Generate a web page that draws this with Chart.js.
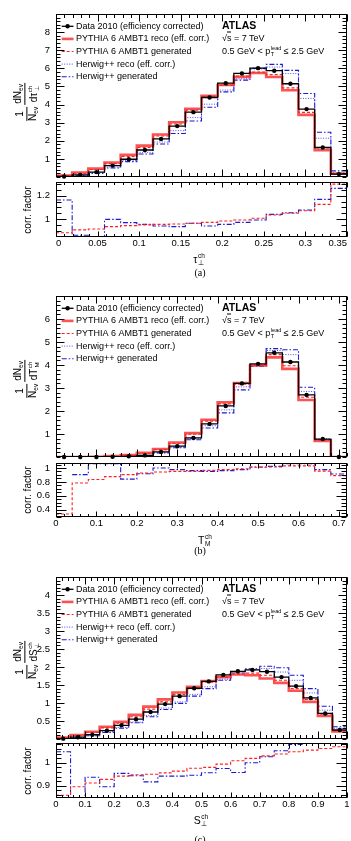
<!DOCTYPE html>
<html>
<head>
<meta charset="utf-8">
<script src="https://cdn.jsdelivr.net/npm/chart.js@4.4.1/dist/chart.umd.min.js"></script>
<style>
  body { margin: 0; background: #fff; }
  #page { position: relative; width: 351px; height: 841px; overflow: hidden; font-family: "Liberation Sans", Arial, Helvetica, sans-serif; color: #000; }
  canvas { position: absolute; left: 0; }
  .l, .c, .yt { position: absolute; white-space: nowrap; line-height: 1; }
  .l { transform: translateY(-50%); }
  .c { transform: translate(-50%, -50%); }
  .yt { transform: translate(-50%, -50%) rotate(-90deg); font-size: 10px; }
  .atlas { font-weight: bold; font-size: 10.5px; }
  .info { font-size: 9px; }
  .xt { font-size: 10.5px; }
  .cap { font-family: "Liberation Serif", "Times New Roman", serif; font-size: 10px; }
  .ss { display: inline-flex; flex-direction: column; font-size: 0.62em; line-height: 1.15em; vertical-align: 0.8em; margin-left: 0.5px; }
  .lo { font-size: 0.65em; position: relative; top: 0.35em; }
  .fr { display: inline-flex; flex-direction: column; text-align: center; vertical-align: middle; margin: 0 1px; }
  .fr > span:first-child { border-bottom: 1px solid #000; padding: 0 1px 1px; }
  .fr > span:last-child { padding-top: 1px; }
  .ov { border-top: 1px solid #000; }
</style>
</head>
<body>
<div id="page">
  <canvas id="mainA"></canvas><canvas id="corrA"></canvas>
  <canvas id="mainB"></canvas><canvas id="corrB"></canvas>
  <canvas id="mainC"></canvas><canvas id="corrC"></canvas>

  <!-- (a) -->
  <div class="l atlas" style="left:222px;top:24.7px">ATLAS</div>
  <div class="l info" style="left:222px;top:37.5px">√<span class="ov">s</span> = 7 TeV</div>
  <div class="l info" style="left:222px;top:50.5px">0.5 GeV &lt; p<span class="ss"><span>lead</span><span>T</span></span> ≤ 2.5 GeV</div>
  <div class="yt" style="left:27px;top:102px"><span class="fr"><span>1</span><span>N<span class="lo">ev</span></span></span><span class="fr"><span>dN<span class="lo">ev</span></span><span>dτ<span class="ss"><span>ch</span><span>⊥</span></span></span></span></div>
  <div class="yt" style="left:28px;top:209.5px">corr. factor</div>
  <div class="c xt" style="left:199px;top:259px">τ<span class="ss"><span>ch</span><span>⊥</span></span></div>
  <div class="c cap" style="left:200px;top:273px">(a)</div>

  <!-- (b) -->
  <div class="l atlas" style="left:222px;top:306.7px">ATLAS</div>
  <div class="l info" style="left:222px;top:319.5px">√<span class="ov">s</span> = 7 TeV</div>
  <div class="l info" style="left:222px;top:332.5px">0.5 GeV &lt; p<span class="ss"><span>lead</span><span>T</span></span> ≤ 2.5 GeV</div>
  <div class="yt" style="left:27px;top:379px"><span class="fr"><span>1</span><span>N<span class="lo">ev</span></span></span><span class="fr"><span>dN<span class="lo">ev</span></span><span>dT<span class="ss"><span>ch</span><span>M</span></span></span></span></div>
  <div class="yt" style="left:28px;top:490px">corr. factor</div>
  <div class="c xt" style="left:205px;top:540px">T<span class="ss"><span>ch</span><span>M</span></span></div>
  <div class="c cap" style="left:200px;top:551px">(b)</div>

  <!-- (c) -->
  <div class="l atlas" style="left:222px;top:587.7px">ATLAS</div>
  <div class="l info" style="left:222px;top:600.5px">√<span class="ov">s</span> = 7 TeV</div>
  <div class="l info" style="left:222px;top:613.5px">0.5 GeV &lt; p<span class="ss"><span>lead</span><span>T</span></span> ≤ 2.5 GeV</div>
  <div class="yt" style="left:27px;top:660px"><span class="fr"><span>1</span><span>N<span class="lo">ev</span></span></span><span class="fr"><span>dN<span class="lo">ev</span></span><span>dS<span class="ss"><span>ch</span><span>⊥</span></span></span></span></div>
  <div class="yt" style="left:28px;top:770.5px">corr. factor</div>
  <div class="c xt" style="left:201px;top:820px">S<span class="ss"><span>ch</span><span>⊥</span></span></div>
  <div class="c cap" style="left:200px;top:840px">(c)</div>
</div>

<script>
// ---------- (a) transverse thrust minor tau_perp, 18 bins over 0..0.35 ----------
const tauRange = [0, 0.35];
const tauBins = 18;
const tauData   = [0.03, 0.12, 0.27, 0.63, 0.98, 1.49, 2.10, 2.81, 3.58, 4.39, 5.18, 5.72, 6.01, 5.87, 5.15, 3.75, 1.63, 0.16];
const tauPyReco = [0.08, 0.25, 0.46, 0.80, 1.22, 1.73, 2.35, 3.02, 3.77, 4.49, 5.08, 5.53, 5.74, 5.52, 4.79, 3.43, 1.48, 0.18];
const tauPyGen  = [0.06, 0.21, 0.41, 0.74, 1.13, 1.63, 2.26, 2.93, 3.69, 4.43, 5.06, 5.58, 5.79, 5.65, 4.92, 3.57, 1.60, 0.21];
const tauHwReco = [0.04, 0.10, 0.24, 0.55, 0.92, 1.36, 1.93, 2.56, 3.28, 4.02, 4.80, 5.42, 5.96, 6.07, 5.71, 4.34, 2.14, 0.22];
const tauHwGen  = [0.03, 0.08, 0.20, 0.50, 0.85, 1.27, 1.82, 2.40, 3.09, 3.85, 4.70, 5.35, 6.00, 6.22, 5.89, 4.61, 2.47, 0.34];
const tauPyCorr = [0.882, 0.906, 0.914, 0.934, 0.943, 0.949, 0.954, 0.957, 0.963, 0.971, 0.983, 0.991, 1.006, 1.034, 1.049, 1.071, 1.126, 1.30];
const tauHwCorr = [1.163, 0.86, 0.84, 0.997, 0.969, 0.954, 0.94, 0.934, 0.963, 0.94, 0.954, 0.971, 0.991, 1.04, 1.054, 1.077, 1.169, 1.263];
const tauXTicks = [0, 0.05, 0.1, 0.15, 0.2, 0.25, 0.3, 0.35];
const tauYTicks = [1, 2, 3, 4, 5, 6, 7, 8];
const tauCorrTicks = [1, 1.2];

// ---------- (b) thrust major T_M, 18 bins over 0..0.72 ----------
const tmRange = [0, 0.72];
const tmBins = 18;
const tmData   = [0.0, 0.0, 0.0, 0.01, 0.03, 0.07, 0.22, 0.47, 0.83, 1.44, 2.22, 3.20, 4.05, 4.53, 4.13, 2.70, 0.78, 0.0];
const tmPyReco = [0.0, 0.0, 0.01, 0.04, 0.08, 0.18, 0.35, 0.63, 1.04, 1.62, 2.38, 3.22, 3.98, 4.33, 3.83, 2.48, 0.70, 0.0];
const tmPyGen  = [0.0, 0.0, 0.01, 0.03, 0.07, 0.16, 0.32, 0.59, 0.99, 1.56, 2.31, 3.17, 4.00, 4.45, 3.97, 2.60, 0.74, 0.0];
const tmHwReco = [0.0, 0.0, 0.0, 0.01, 0.03, 0.07, 0.19, 0.43, 0.80, 1.36, 2.05, 3.05, 4.00, 4.63, 4.45, 2.85, 0.78, 0.0];
const tmHwGen  = [0.0, 0.0, 0.0, 0.01, 0.03, 0.06, 0.18, 0.40, 0.75, 1.26, 1.92, 2.92, 3.95, 4.71, 4.66, 3.03, 0.75, 0.0];
const tmPyCorr = [0.337, 0.784, 0.835, 0.875, 0.904, 0.928, 0.942, 0.952, 0.952, 0.966, 0.976, 0.99, 1.01, 1.014, 1.03, 1.03, 0.955, 0.89];
const tmHwCorr = [null, 0.904, 1.062, 1.062, 0.84, 0.918, 1.0, 0.976, 0.962, 0.952, 0.962, 0.976, 1.014, 1.024, 1.062, 1.062, 0.976, 0.914];
const tmXTicks = [0, 0.1, 0.2, 0.3, 0.4, 0.5, 0.6, 0.7];
const tmYTicks = [1, 2, 3, 4, 5, 6];
const tmCorrTicks = [0.4, 0.6, 0.8, 1];

// ---------- (c) transverse sphericity S_perp, 20 bins over 0..1 ----------
const spRange = [0, 1];
const spBins = 20;
const spData   = [0.01, 0.05, 0.12, 0.23, 0.38, 0.55, 0.75, 0.97, 1.19, 1.41, 1.60, 1.78, 1.88, 1.92, 1.87, 1.72, 1.47, 1.14, 0.71, 0.25];
const spPyReco = [0.04, 0.11, 0.20, 0.34, 0.48, 0.67, 0.90, 1.10, 1.29, 1.45, 1.61, 1.72, 1.79, 1.77, 1.68, 1.56, 1.34, 1.03, 0.64, 0.21];
const spPyGen  = [0.03, 0.09, 0.18, 0.31, 0.44, 0.62, 0.83, 1.03, 1.24, 1.40, 1.58, 1.72, 1.81, 1.83, 1.77, 1.63, 1.40, 1.10, 0.69, 0.23];
const spHwReco = [0.02, 0.04, 0.10, 0.20, 0.32, 0.47, 0.65, 0.86, 1.03, 1.24, 1.45, 1.66, 1.86, 1.92, 1.96, 1.86, 1.63, 1.28, 0.80, 0.30];
const spHwGen  = [0.01, 0.03, 0.09, 0.18, 0.30, 0.45, 0.62, 0.82, 0.99, 1.19, 1.40, 1.63, 1.86, 1.95, 2.02, 1.98, 1.77, 1.40, 0.91, 0.34];
const spPyCorr = [0.859, 0.896, 0.912, 0.928, 0.942, 0.948, 0.95, 0.956, 0.964, 0.976, 0.98, 0.994, 1.009, 1.019, 1.03, 1.038, 1.048, 1.055, 1.062, 1.07];
const spHwCorr = [1.048, 0.84, 0.937, 0.896, 0.954, 0.944, 0.917, 0.942, 0.942, 0.946, 0.957, 0.975, 0.958, 1.0, 1.026, 1.052, 1.08, 1.1, 1.1, 1.1];
const spXTicks = [0, 0.1, 0.2, 0.3, 0.4, 0.5, 0.6, 0.7, 0.8, 0.9, 1];
const spYTicks = [0.5, 1, 1.5, 2, 2.5, 3, 3.5, 4];
const spCorrTicks = [0.9, 1];

const legendLabels = ['Data 2010 (efficiency corrected)', 'PYTHIA 6 AMBT1 reco (eff. corr.)', 'PYTHIA 6 AMBT1 generated', 'Herwig++ reco (eff. corr.)', 'Herwig++ generated'];

// line styles
const STY = {
  data:   { color: '#000000', width: 1.3, dash: [] },
  pyReco: { color: 'rgba(248,40,40,0.8)', width: 2.6, dash: [] },
  pyGen:  { color: '#ff2020', width: 1.1, dash: [3, 2] },
  hwReco: { color: '#4a4aff', width: 1, dash: [1, 1.5] },
  hwGen:  { color: '#1a1ad0', width: 1.1, dash: [5, 2, 1.5, 2] }
};
const TICKFONT = { family: '"Liberation Sans", Arial, sans-serif', size: 9.5 };

function binEdges(range, n) {
  let e = [];
  for (let i = 0; i <= n; i++) e.push(range[0] + (range[1] - range[0]) * i / n);
  return e;
}

// histogram outline: point at each left edge carries that bin's value,
// the closing point at the last edge repeats the last bin
function stepSet(edges, vals, s) {
  return {
    data: edges.map((e, i) => ({ x: e, y: vals[Math.min(i, vals.length - 1)] })),
    stepped: 'before', borderColor: s.color, borderWidth: s.width, borderDash: s.dash,
    pointRadius: 0, fill: false, clip: 0, spanGaps: false
  };
}

function markerSet(edges, vals) {
  return {
    data: vals.map((v, i) => ({ x: (edges[i] + edges[i + 1]) / 2, y: v })),
    showLine: false, pointRadius: 2.2, pointBackgroundColor: '#000', pointBorderWidth: 0,
    borderColor: '#000', clip: 10
  };
}

function fmt(v) { return String(Math.round(v * 1000) / 1000); }

// frame, inward ticks on all sides and the legend
const atlasFrame = {
  id: 'atlasFrame',
  afterDraw(chart, args, o) {
    const { ctx, chartArea: a, scales } = chart;
    const L = Math.round(a.left) + 0.5, R = Math.round(a.right) - 0.5;
    const T = Math.round(a.top) + 0.5, B = Math.round(a.bottom) - 0.5;
    ctx.save();
    ctx.strokeStyle = '#000';
    ctx.lineWidth = 1;
    ctx.setLineDash([]);
    ctx.strokeRect(L, T, R - L, B - T);

    function minors(scale, step) {
      let out = [];
      let k0 = Math.ceil(scale.min / step - 1e-6), k1 = Math.floor(scale.max / step + 1e-6);
      for (let k = k0; k <= k1; k++) out.push(k * step);
      return out;
    }
    function xmarks(list, len) {
      list.forEach(v => {
        let p = Math.round(scales.x.getPixelForValue(v)) + 0.5;
        ctx.beginPath();
        ctx.moveTo(p, B); ctx.lineTo(p, B - len);
        ctx.moveTo(p, T); ctx.lineTo(p, T + len);
        ctx.stroke();
      });
    }
    function ymarks(list, len) {
      list.forEach(v => {
        let p = Math.round(scales.y.getPixelForValue(v)) + 0.5;
        ctx.beginPath();
        ctx.moveTo(L, p); ctx.lineTo(L + len, p);
        ctx.moveTo(R, p); ctx.lineTo(R - len, p);
        ctx.stroke();
      });
    }
    xmarks(minors(scales.x, o.xMinor), o.xLen[1]);
    xmarks(o.xMajor, o.xLen[0]);
    ymarks(minors(scales.y, o.yMinor), o.yLen[1]);
    ymarks(o.yMajor, o.yLen[0]);

    if (o.legend) {
      ctx.font = '9px "Liberation Sans", Arial, sans-serif';
      ctx.textBaseline = 'middle';
      o.legend.forEach((lab, i) => {
        let yy = a.top + 12.3 + i * 12.6;
        let ds = chart.data.datasets[i + 1];
        ctx.setLineDash(ds.borderDash || []);
        ctx.strokeStyle = ds.borderColor;
        ctx.lineWidth = ds.borderWidth;
        ctx.beginPath();
        ctx.moveTo(a.left + 5.7, yy); ctx.lineTo(a.left + 17.5, yy);
        ctx.stroke();
        ctx.setLineDash([]);
        ctx.fillStyle = '#000';
        if (i === 0) {
          ctx.beginPath(); ctx.arc(a.left + 11.6, yy, 2.2, 0, 2 * Math.PI); ctx.fill();
        }
        ctx.fillText(lab, a.left + 20, yy);
      });
    }
    ctx.restore();
  }
};

function xAxis(range, ticks, show, align) {
  let ax = {
    type: 'linear', min: range[0], max: range[1], display: show,
    grid: { display: false, drawTicks: false }, border: { display: false },
    afterBuildTicks: s => { s.ticks = ticks.map(v => ({ value: v })); },
    ticks: { font: TICKFONT, color: '#000', padding: 1, maxRotation: 0, autoSkip: false, align: align || 'center', callback: fmt }
  };
  if (show) ax.afterFit = s => { s.height = 16; s.paddingLeft = 0; s.paddingRight = 0; };
  return ax;
}

function yAxis(min, max, ticks) {
  return {
    type: 'linear', min: min, max: max,
    grid: { display: false, drawTicks: false }, border: { display: false },
    afterBuildTicks: s => { s.ticks = ticks.map(v => ({ value: v })); },
    afterFit: s => { s.width = 56; s.paddingTop = 0; s.paddingBottom = 0; },
    ticks: { font: TICKFONT, color: '#000', padding: 6, autoSkip: false, callback: fmt }
  };
}

function makeChart(id, top, height, pad, xs, ys, datasets, frame) {
  let cv = document.getElementById(id);
  cv.width = 351; cv.height = height; cv.style.top = top + 'px';
  return new Chart(cv, {
    type: 'line',
    data: { datasets: datasets },
    options: {
      responsive: false, animation: false, events: [],
      layout: { padding: pad },
      scales: { x: xs, y: ys },
      plugins: { legend: { display: false }, tooltip: { enabled: false }, atlasFrame: frame }
    },
    plugins: [atlasFrame]
  });
}

function mainPanel(id, fTop, fBottom, range, bins, data, pyReco, pyGen, hwReco, hwGen, xTicks, xMinor, yMax, yTicks, yMinor) {
  let edges = binEdges(range, bins);
  let sets = [
    markerSet(edges, data),
    stepSet(edges, data, STY.data),
    stepSet(edges, pyReco, STY.pyReco),
    stepSet(edges, pyGen, STY.pyGen),
    stepSet(edges, hwReco, STY.hwReco),
    stepSet(edges, hwGen, STY.hwGen)
  ];
  makeChart(id, fTop - 10, fBottom - fTop + 16, { top: 10, bottom: 6, left: 0, right: 4 },
    xAxis(range, xTicks, false), yAxis(0, yMax, yTicks), sets,
    { xMajor: xTicks, xMinor: xMinor, yMajor: yTicks, yMinor: yMinor, xLen: [7, 3.5], yLen: [8, 4], legend: legendLabels });
}

function corrPanel(id, fTop, fBottom, range, bins, pyCorr, hwCorr, xTicks, xMinor, yMin, yMax, yTicks, yMinor, align) {
  let edges = binEdges(range, bins);
  let sets = [stepSet(edges, pyCorr, STY.pyGen), stepSet(edges, hwCorr, STY.hwGen)];
  makeChart(id, fTop - 4, fBottom - fTop + 22, { top: 4, bottom: 2, left: 0, right: 4 },
    xAxis(range, xTicks, true, align), yAxis(yMin, yMax, yTicks), sets,
    { xMajor: xTicks, xMinor: xMinor, yMajor: yTicks, yMinor: yMinor, xLen: [5, 2.5], yLen: [10, 5], legend: null });
}

mainPanel('mainA', 14, 177, tauRange, tauBins, tauData, tauPyReco, tauPyGen, tauHwReco, tauHwGen, tauXTicks, 0.01, 9, tauYTicks, 0.2);
corrPanel('corrA', 182, 237, tauRange, tauBins, tauPyCorr, tauHwCorr, tauXTicks, 0.01, 0.845, 1.318, tauCorrTicks, 0.05, 'inner');

mainPanel('mainB', 296, 457, tmRange, tmBins, tmData, tmPyReco, tmPyGen, tmHwReco, tmHwGen, tmXTicks, 0.02, 7, tmYTicks, 0.2);
corrPanel('corrB', 463, 517, tmRange, tmBins, tmPyCorr, tmHwCorr, tmXTicks, 0.02, 0.294, 1.072, tmCorrTicks, 0.05);

mainPanel('mainC', 577, 739, spRange, spBins, spData, spPyReco, spPyGen, spHwReco, spHwGen, spXTicks, 0.02, 4.5, spYTicks, 0.1);
corrPanel('corrC', 743, 798, spRange, spBins, spPyCorr, spHwCorr, spXTicks, 0.02, 0.847, 1.086, spCorrTicks, 0.02);
</script>
</body>
</html>
